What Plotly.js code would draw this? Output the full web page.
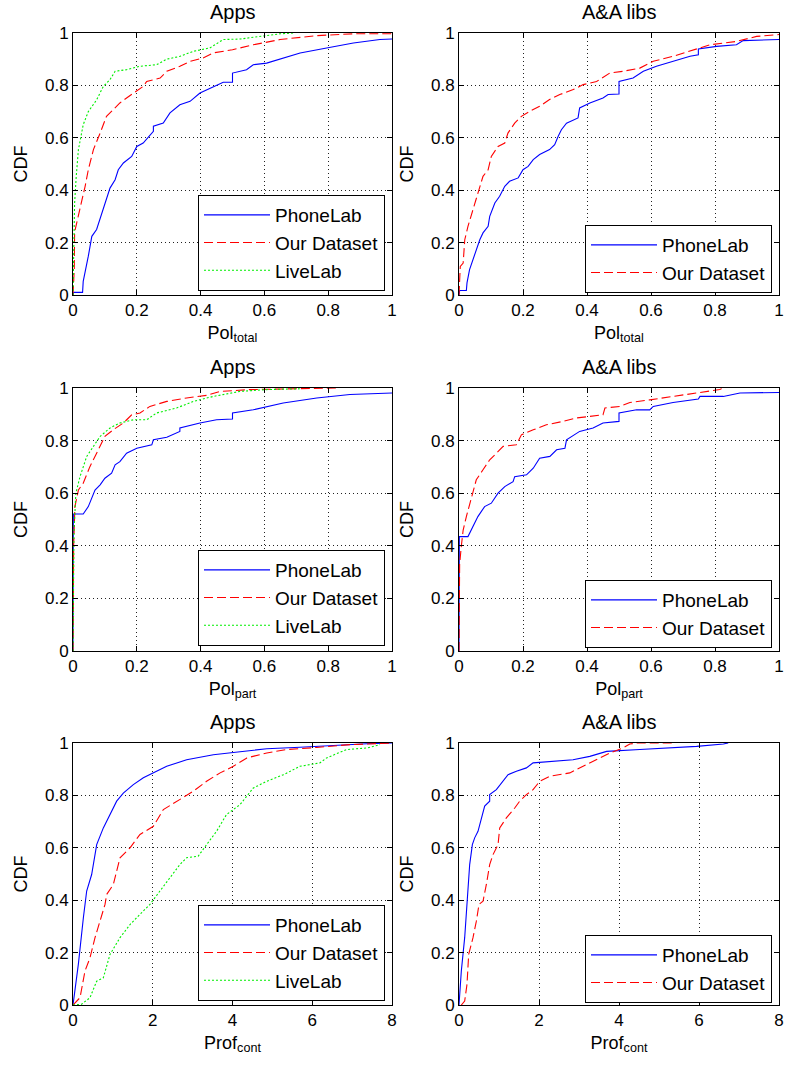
<!DOCTYPE html>
<html>
<head>
<meta charset="utf-8">
<script src="https://cdn.plot.ly/plotly-3.0.1.min.js"></script>
<style>html,body{margin:0;padding:0;background:#fff;}#chart{width:785px;height:1068px;}</style>
</head>
<body>
<div id="chart"></div>
<script>
// ---------- Data ----------
const seriesNames = ["PhoneLab", "Our Dataset", "LiveLab"];
const panelTitles = ["Apps", "A&A libs", "Apps", "A&A libs", "Apps", "A&A libs"];
const xLabels = ["Pol<sub>total</sub>", "Pol<sub>total</sub>", "Pol<sub>part</sub>", "Pol<sub>part</sub>", "Prof<sub>cont</sub>", "Prof<sub>cont</sub>"];
const yLabel = "CDF";

// Panel 1: Apps, Pol_total
const p1PhoneX = [0,0.002,0.03,0.032,0.048,0.059,0.074,0.09,0.105,0.116,0.132,0.142,0.158,0.184,0.2,0.22,0.252,0.252,0.283,0.304,0.335,0.367,0.398,0.44,0.471,0.5,0.5,0.544,0.565,0.607,0.66,0.712,0.795,0.879,0.962,1.0];
const p1PhoneY = [0,0.01,0.01,0.052,0.148,0.224,0.25,0.313,0.364,0.408,0.44,0.478,0.504,0.529,0.567,0.58,0.625,0.644,0.656,0.695,0.726,0.739,0.771,0.796,0.812,0.812,0.847,0.86,0.879,0.885,0.905,0.924,0.943,0.962,0.975,0.977];
const p1OursX = [0,0.004,0.005,0.022,0.038,0.048,0.064,0.085,0.105,0.126,0.147,0.168,0.2,0.22,0.231,0.273,0.294,0.335,0.367,0.408,0.44,0.5,0.565,0.649,0.764,0.879,1.0];
const p1OursY = [0,0.1,0.24,0.326,0.415,0.478,0.555,0.618,0.682,0.707,0.733,0.752,0.777,0.796,0.815,0.828,0.854,0.873,0.892,0.905,0.924,0.936,0.955,0.975,0.99,0.997,0.997];
const p1LiveX = [0,0.002,0.005,0.01,0.017,0.032,0.048,0.074,0.095,0.116,0.132,0.168,0.21,0.262,0.294,0.335,0.377,0.429,0.471,0.524,0.586,0.649,0.69];
const p1LiveY = [0,0.2,0.35,0.45,0.555,0.65,0.7,0.745,0.796,0.822,0.854,0.86,0.873,0.879,0.9,0.911,0.93,0.943,0.975,0.977,0.987,0.997,1.0];

// Panel 2: A&A libs, Pol_total
const p2PhoneX = [0,0.002,0.023,0.025,0.033,0.044,0.054,0.065,0.075,0.091,0.096,0.112,0.127,0.143,0.158,0.185,0.2,0.216,0.232,0.252,0.283,0.299,0.31,0.32,0.336,0.372,0.377,0.409,0.45,0.466,0.5,0.5,0.544,0.576,0.617,0.669,0.722,0.748,0.748,0.805,0.867,0.888,1.0];
const p2PhoneY = [0,0.017,0.017,0.046,0.097,0.135,0.173,0.211,0.237,0.262,0.3,0.351,0.377,0.415,0.434,0.447,0.478,0.491,0.517,0.536,0.555,0.574,0.606,0.631,0.656,0.676,0.714,0.733,0.752,0.765,0.767,0.815,0.828,0.854,0.873,0.892,0.911,0.917,0.939,0.949,0.955,0.971,0.975];
const p2OursX = [0,0.004,0.013,0.018,0.028,0.044,0.059,0.075,0.091,0.101,0.122,0.143,0.153,0.174,0.195,0.221,0.252,0.283,0.315,0.357,0.388,0.43,0.471,0.513,0.565,0.607,0.669,0.722,0.784,0.868,0.93,1.0];
const p2OursY = [0,0.109,0.122,0.211,0.262,0.326,0.389,0.453,0.478,0.529,0.567,0.58,0.618,0.656,0.682,0.701,0.72,0.746,0.765,0.784,0.803,0.815,0.847,0.854,0.866,0.892,0.911,0.93,0.955,0.968,0.987,0.994];

// Panel 3: Apps, Pol_part
const p3PhoneX = [0,0.001,0.032,0.048,0.069,0.085,0.1,0.121,0.132,0.147,0.168,0.2,0.247,0.252,0.294,0.335,0.335,0.398,0.45,0.5,0.5,0.565,0.659,0.764,0.868,1.0];
const p3PhoneY = [0,0.521,0.521,0.549,0.612,0.632,0.657,0.676,0.708,0.72,0.752,0.771,0.784,0.803,0.813,0.835,0.848,0.867,0.879,0.882,0.905,0.917,0.943,0.962,0.975,0.981];
const p3OursX = [0,0.002,0.006,0.017,0.032,0.053,0.074,0.09,0.1,0.126,0.158,0.184,0.21,0.241,0.294,0.356,0.419,0.461,0.555,0.827];
const p3OursY = [0,0.4,0.549,0.612,0.638,0.701,0.752,0.79,0.816,0.841,0.867,0.898,0.905,0.93,0.949,0.962,0.972,0.987,0.994,1.0];
const p3LiveX = [0,0.003,0.009,0.022,0.043,0.064,0.085,0.116,0.147,0.189,0.231,0.262,0.325,0.377,0.44,0.523,0.607,0.711];
const p3LiveY = [0,0.45,0.6,0.663,0.74,0.778,0.816,0.848,0.867,0.879,0.879,0.905,0.924,0.949,0.968,0.987,0.994,0.997];

// Panel 4: A&A libs, Pol_part
const p4PhoneX = [0,0.001,0.028,0.044,0.059,0.08,0.101,0.122,0.143,0.169,0.174,0.211,0.232,0.252,0.284,0.305,0.331,0.336,0.377,0.419,0.45,0.5,0.5,0.555,0.596,0.607,0.669,0.748,0.753,0.826,0.878,1.0];
const p4PhoneY = [0,0.435,0.435,0.473,0.511,0.549,0.562,0.6,0.625,0.644,0.663,0.67,0.695,0.733,0.74,0.765,0.771,0.803,0.835,0.848,0.867,0.873,0.905,0.917,0.917,0.93,0.945,0.958,0.968,0.968,0.981,0.983];
const p4OursX = [0,0.002,0.007,0.013,0.023,0.039,0.054,0.075,0.096,0.117,0.138,0.179,0.195,0.232,0.273,0.325,0.367,0.45,0.456,0.503,0.534,0.596,0.669,0.753,0.815,0.825];
const p4OursY = [0,0.33,0.396,0.46,0.511,0.587,0.651,0.689,0.727,0.752,0.778,0.784,0.822,0.841,0.86,0.873,0.886,0.898,0.924,0.93,0.945,0.955,0.968,0.981,0.994,1.0];

// Panel 5: Apps, Prof_cont
const p5PhoneX = [0,0.134,0.26,0.343,0.468,0.594,0.761,0.928,1.095,1.262,1.513,1.764,2.015,2.35,2.85,3.52,4.02,4.86,5.69,6.53,7.37,8.0];
const p5PhoneY = [0,0.155,0.333,0.435,0.498,0.612,0.676,0.727,0.778,0.809,0.841,0.867,0.886,0.911,0.936,0.955,0.964,0.978,0.984,0.991,0.997,1.0];
const p5OursX = [0,0.176,0.301,0.426,0.552,0.677,0.803,0.845,1.012,1.179,1.43,1.68,2.015,2.266,2.6,3.02,3.35,3.69,4.02,4.36,4.86,5.36,6.11,6.95,8.0];
const p5OursY = [0,0.028,0.13,0.18,0.257,0.32,0.384,0.422,0.46,0.562,0.6,0.651,0.682,0.746,0.778,0.816,0.854,0.886,0.911,0.943,0.962,0.975,0.983,0.994,1.0];
const p5LiveX = [0,0.217,0.426,0.594,0.761,0.928,1.179,1.43,1.68,1.93,2.18,2.43,2.68,2.85,3.14,3.35,3.6,3.85,4.19,4.52,4.86,5.28,5.69,6.19,6.36,6.86,7.37,7.7];
const p5LiveY = [0,0.003,0.028,0.091,0.104,0.193,0.257,0.307,0.346,0.384,0.435,0.486,0.536,0.562,0.568,0.612,0.663,0.727,0.765,0.828,0.854,0.879,0.911,0.924,0.943,0.975,0.981,0.994];

// Panel 6: A&A libs, Prof_cont
const p6PhoneX = [0,0.058,0.142,0.225,0.267,0.334,0.392,0.475,0.559,0.642,0.767,0.767,0.934,1.143,1.226,1.435,1.685,1.852,2.27,2.85,3.27,3.69,4.52,5.35,5.94,6.61,6.73];
const p6PhoneY = [0,0.13,0.257,0.435,0.536,0.612,0.638,0.663,0.714,0.759,0.778,0.803,0.822,0.86,0.879,0.892,0.905,0.924,0.93,0.936,0.949,0.968,0.975,0.981,0.987,0.996,1.0];
const p6OursX = [0.058,0.142,0.2,0.242,0.35,0.434,0.5,0.6,0.684,0.767,0.851,0.976,1.018,1.184,1.393,1.518,1.685,1.852,2.018,2.27,2.77,3.1,3.44,3.77,4.1,4.27,4.44,5.35];
const p6OursY = [0,0.015,0.079,0.193,0.257,0.32,0.384,0.396,0.46,0.536,0.574,0.612,0.676,0.714,0.752,0.778,0.803,0.822,0.854,0.873,0.886,0.911,0.936,0.962,0.981,0.996,1.0,1.0];

// ---------- Build ----------
const panels = [
  {x:[p1PhoneX,p1OursX,p1LiveX], y:[p1PhoneY,p1OursY,p1LiveY], xmax:1, dtick:0.2},
  {x:[p2PhoneX,p2OursX], y:[p2PhoneY,p2OursY], xmax:1, dtick:0.2},
  {x:[p3PhoneX,p3OursX,p3LiveX], y:[p3PhoneY,p3OursY,p3LiveY], xmax:1, dtick:0.2},
  {x:[p4PhoneX,p4OursX], y:[p4PhoneY,p4OursY], xmax:1, dtick:0.2},
  {x:[p5PhoneX,p5OursX,p5LiveX], y:[p5PhoneY,p5OursY,p5LiveY], xmax:8, dtick:2},
  {x:[p6PhoneX,p6OursX], y:[p6PhoneY,p6OursY], xmax:8, dtick:2}
];
const styles = [
  {color:"#0000ff", dash:"solid"},
  {color:"#ff0000", dash:"9px,4px"},
  {color:"#00ee00", dash:"2px,2px"}
];
const W = 785, H = 1068;
const colPx = [[73,392],[459,779]];
const rowPx = [[33,295],[388,651],[743,1005]];
const legendTopPx = [195,225,550,580,905,935];
const legendRightPx = [385,772];
const FONT = "Liberation Sans, Arial, Helvetica, sans-serif";

const traces = [];
const layout = {
  width: W, height: H,
  margin: {l:0, r:0, t:0, b:0},
  paper_bgcolor: "#fff", plot_bgcolor: "#fff",
  font: {family: FONT, color: "#000", size: 17},
  showlegend: true,
  annotations: []
};

panels.forEach((p, i) => {
  const r = Math.floor(i/2), c = i % 2;
  const ax = i === 0 ? "" : String(i+1);
  const lg = i === 0 ? "legend" : "legend" + (i+1);
  p.x.forEach((xs, k) => {
    traces.push({
      type: "scatter", mode: "lines",
      x: xs, y: p.y[k],
      name: seriesNames[k],
      xaxis: "x" + ax, yaxis: "y" + ax,
      legend: lg,
      line: {color: styles[k].color, dash: styles[k].dash, width: 1.1}
    });
  });
  const common = {
    showline: true, linecolor: "#000", linewidth: 1, mirror: "ticks",
    ticks: "inside", ticklen: 5, tickcolor: "#000", tickwidth: 1,
    showgrid: true, gridcolor: "#222", griddash: "1px,3px", gridwidth: 1,
    zeroline: false, tickfont: {size: 17, family: FONT, color: "#000"}
  };
  layout["xaxis" + ax] = Object.assign({}, common, {
    domain: [colPx[c][0]/W, colPx[c][1]/W],
    anchor: "y" + ax,
    range: [0, p.xmax], dtick: p.dtick, tick0: 0,
    title: {text: xLabels[i], font: {size: 18, family: FONT}, standoff: 6}
  });
  layout["yaxis" + ax] = Object.assign({}, common, {
    domain: [1 - rowPx[r][1]/H, 1 - rowPx[r][0]/H],
    anchor: "x" + ax,
    range: [0, 1], dtick: 0.2, tick0: 0,
    title: {text: yLabel, font: {size: 18, family: FONT}, standoff: 12}
  });
  layout[lg] = {
    x: legendRightPx[c]/W, xanchor: "right",
    y: 1 - legendTopPx[i]/H, yanchor: "top",
    bgcolor: "#fff", bordercolor: "#000", borderwidth: 1,
    font: {size: 19, family: FONT, color: "#000"},
    itemwidth: 66, tracegroupgap: 0
  };
  layout.annotations.push({
    text: panelTitles[i], xref: "paper", yref: "paper",
    x: (colPx[c][0] + colPx[c][1]) / 2 / W, xanchor: "center",
    y: 1 - rowPx[r][0]/H, yanchor: "bottom", yshift: 8,
    showarrow: false, font: {size: 20, family: FONT, color: "#000"}
  });
});

Plotly.newPlot("chart", traces, layout, {displayModeBar: false, staticPlot: true});
</script>
</body>
</html>
